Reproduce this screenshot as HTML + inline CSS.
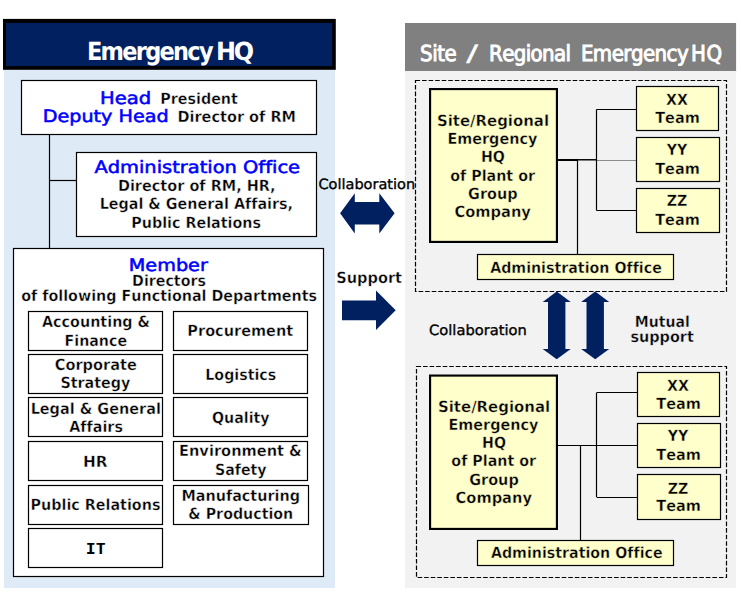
<!DOCTYPE html>
<html lang="en"><head><meta charset="utf-8"><title>Emergency HQ organisation</title>
<style>html,body{margin:0;padding:0;background:#fff}svg{display:block}text{font-variant-ligatures:none;font-kerning:none}</style></head>
<body>
<svg width="741" height="593" viewBox="0 0 741 593" text-rendering="geometricPrecision">
<rect x="0" y="0" width="741" height="593" fill="#ffffff"/>
<rect x="4.00" y="69.00" width="331.00" height="519.00" fill="#deeaf6" />
<rect x="405.00" y="71.00" width="331.10" height="517.00" fill="#f2f2f2" />
<rect x="3.00" y="18.90" width="332.80" height="50.90" fill="#000" />
<rect x="6.05" y="22.95" width="326.05" height="43.10" fill="#002060" />
<rect x="405.00" y="23.00" width="331.10" height="48.00" fill="#808080" />
<text x="86.90" y="60.00" font-family='"DejaVu Sans Condensed", "Liberation Sans", sans-serif' font-size="25" font-weight="bold" fill="#fff" letter-spacing="-1.728">Emergency</text>
<text transform="translate(216.1,60) scale(0.96,1)" letter-spacing="-2.45" font-family='"DejaVu Sans", "Liberation Sans", sans-serif' font-size="24.9" font-weight="bold" fill="#fff">HQ</text>
<text x="420.10" y="61.00" font-family='"DejaVu Sans Condensed", "Liberation Sans", sans-serif' font-size="22" font-weight="normal" fill="#fff" letter-spacing="-0.502" stroke="#ffffff" stroke-width="0.9">Site</text>
<text x="466.20" y="61.00" font-family='"DejaVu Sans Condensed", "Liberation Sans", sans-serif' font-size="22.5" font-weight="normal" fill="#fff" textLength="11.80" lengthAdjust="spacingAndGlyphs" stroke="#fff" stroke-width="0.3">/</text>
<text x="489.10" y="61.00" font-family='"DejaVu Sans Condensed", "Liberation Sans", sans-serif' font-size="22" font-weight="normal" fill="#fff" letter-spacing="-0.642" stroke="#ffffff" stroke-width="0.9">Regional</text>
<text x="580.90" y="61.00" font-family='"DejaVu Sans Condensed", "Liberation Sans", sans-serif' font-size="22" font-weight="normal" fill="#fff" letter-spacing="-0.525" stroke="#ffffff" stroke-width="0.9">Emergency</text>
<text x="690.90" y="61.00" font-family='"DejaVu Sans Condensed", "Liberation Sans", sans-serif' font-size="22" font-weight="normal" fill="#fff" letter-spacing="0.735" stroke="#ffffff" stroke-width="0.9">HQ</text>
<line x1="49.50" y1="135.00" x2="49.50" y2="248.50" stroke="#000" stroke-width="1.2"/>
<line x1="49.50" y1="180.50" x2="76.00" y2="180.50" stroke="#000" stroke-width="1.2"/>
<rect x="21.50" y="80.50" width="295.00" height="54.00" fill="#fff" stroke="#000" stroke-width="1.2" />
<rect x="76.50" y="152.50" width="240.00" height="84.00" fill="#fff" stroke="#000" stroke-width="1.2" />
<rect x="13.50" y="248.50" width="310.00" height="328.00" fill="#fff" stroke="#000" stroke-width="1.2" />
<text x="100.05" y="103.60" font-family='"DejaVu Sans", "Liberation Sans", sans-serif' font-size="17" font-weight="normal" fill="#0000ff" textLength="51.14" lengthAdjust="spacingAndGlyphs" stroke="#0000ff" stroke-width="0.55">Head</text>
<text x="160.20" y="103.60" font-family='"DejaVu Sans", "Liberation Sans", sans-serif' font-size="15.5" font-weight="bold" fill="#000" textLength="77.72" lengthAdjust="spacingAndGlyphs" stroke="#fff" stroke-width="0.4">President</text>
<text x="42.79" y="121.70" font-family='"DejaVu Sans", "Liberation Sans", sans-serif' font-size="17" font-weight="normal" fill="#0000ff" textLength="125.86" lengthAdjust="spacingAndGlyphs" stroke="#0000ff" stroke-width="0.55">Deputy Head</text>
<text x="177.48" y="121.70" font-family='"DejaVu Sans", "Liberation Sans", sans-serif' font-size="15.5" font-weight="bold" fill="#000" textLength="118.55" lengthAdjust="spacingAndGlyphs" stroke="#fff" stroke-width="0.4">Director of RM</text>
<text x="94.43" y="172.60" font-family='"DejaVu Sans", "Liberation Sans", sans-serif' font-size="17" font-weight="normal" fill="#0000ff" textLength="205.60" lengthAdjust="spacingAndGlyphs" stroke="#0000ff" stroke-width="0.55">Administration Office</text>
<text x="117.89" y="190.60" font-family='"DejaVu Sans", "Liberation Sans", sans-serif' font-size="15.5" font-weight="bold" fill="#000" textLength="157.59" lengthAdjust="spacingAndGlyphs" stroke="#fff" stroke-width="0.4">Director of RM, HR,</text>
<text x="99.69" y="209.00" font-family='"DejaVu Sans", "Liberation Sans", sans-serif' font-size="15.5" font-weight="bold" fill="#000" textLength="193.38" lengthAdjust="spacingAndGlyphs" stroke="#fff" stroke-width="0.4">Legal &amp; General Affairs,</text>
<text x="131.30" y="227.50" font-family='"DejaVu Sans", "Liberation Sans", sans-serif' font-size="15.5" font-weight="bold" fill="#000" textLength="129.67" lengthAdjust="spacingAndGlyphs" stroke="#fff" stroke-width="0.4">Public Relations</text>
<text x="128.79" y="270.50" font-family='"DejaVu Sans", "Liberation Sans", sans-serif' font-size="17" font-weight="normal" fill="#0000ff" textLength="79.02" lengthAdjust="spacingAndGlyphs" stroke="#0000ff" stroke-width="0.55">Member</text>
<text x="132.10" y="285.80" font-family='"DejaVu Sans", "Liberation Sans", sans-serif' font-size="15.5" font-weight="bold" fill="#000" textLength="73.81" lengthAdjust="spacingAndGlyphs" stroke="#fff" stroke-width="0.4">Directors</text>
<text x="21.20" y="300.80" font-family='"DejaVu Sans", "Liberation Sans", sans-serif' font-size="15.5" font-weight="bold" fill="#000" textLength="295.88" lengthAdjust="spacingAndGlyphs" stroke="#fff" stroke-width="0.4">of following Functional Departments</text>
<rect x="28.50" y="311.50" width="134.00" height="39.00" fill="#fff" stroke="#000" stroke-width="1.2" />
<text x="42.04" y="326.75" font-family='"DejaVu Sans", "Liberation Sans", sans-serif' font-size="15.5" font-weight="bold" fill="#000" textLength="108.06" lengthAdjust="spacingAndGlyphs" stroke="#fff" stroke-width="0.4">Accounting &amp;</text>
<text x="64.55" y="345.70" font-family='"DejaVu Sans", "Liberation Sans", sans-serif' font-size="15.5" font-weight="bold" fill="#000" textLength="62.50" lengthAdjust="spacingAndGlyphs" stroke="#fff" stroke-width="0.4">Finance</text>
<rect x="28.50" y="354.50" width="134.00" height="39.00" fill="#fff" stroke="#000" stroke-width="1.2" />
<text x="54.74" y="370.00" font-family='"DejaVu Sans", "Liberation Sans", sans-serif' font-size="15.5" font-weight="bold" fill="#000" textLength="82.11" lengthAdjust="spacingAndGlyphs" stroke="#fff" stroke-width="0.4">Corporate</text>
<text x="60.43" y="388.40" font-family='"DejaVu Sans", "Liberation Sans", sans-serif' font-size="15.5" font-weight="bold" fill="#000" textLength="69.98" lengthAdjust="spacingAndGlyphs" stroke="#fff" stroke-width="0.4">Strategy</text>
<rect x="28.50" y="397.50" width="134.00" height="39.00" fill="#fff" stroke="#000" stroke-width="1.2" />
<text x="30.64" y="414.10" font-family='"DejaVu Sans", "Liberation Sans", sans-serif' font-size="15.5" font-weight="bold" fill="#000" textLength="130.23" lengthAdjust="spacingAndGlyphs" stroke="#fff" stroke-width="0.4">Legal &amp; General</text>
<text x="69.29" y="432.20" font-family='"DejaVu Sans", "Liberation Sans", sans-serif' font-size="15.5" font-weight="bold" fill="#000" textLength="53.64" lengthAdjust="spacingAndGlyphs" stroke="#fff" stroke-width="0.4">Affairs</text>
<rect x="28.50" y="441.50" width="134.00" height="39.00" fill="#fff" stroke="#000" stroke-width="1.2" />
<text x="82.96" y="466.80" font-family='"DejaVu Sans", "Liberation Sans", sans-serif' font-size="15.5" font-weight="bold" fill="#000" textLength="24.60" lengthAdjust="spacingAndGlyphs" stroke="#fff" stroke-width="0.4">HR</text>
<rect x="28.50" y="485.50" width="134.00" height="39.00" fill="#fff" stroke="#000" stroke-width="1.2" />
<text x="30.55" y="509.50" font-family='"DejaVu Sans", "Liberation Sans", sans-serif' font-size="15.5" font-weight="bold" fill="#000" textLength="129.88" lengthAdjust="spacingAndGlyphs" stroke="#fff" stroke-width="0.4">Public Relations</text>
<rect x="28.50" y="528.50" width="134.00" height="39.00" fill="#fff" stroke="#000" stroke-width="1.2" />
<text x="85.83" y="554.20" font-family='"DejaVu Sans Mono", "Liberation Mono", monospace' font-size="15.2" font-weight="bold" fill="#000" textLength="19.88" lengthAdjust="spacingAndGlyphs">IT</text>
<rect x="173.50" y="311.50" width="134.00" height="39.00" fill="#fff" stroke="#000" stroke-width="1.2" />
<text x="187.36" y="335.75" font-family='"DejaVu Sans", "Liberation Sans", sans-serif' font-size="15.5" font-weight="bold" fill="#000" textLength="105.84" lengthAdjust="spacingAndGlyphs" stroke="#fff" stroke-width="0.4">Procurement</text>
<rect x="173.50" y="354.50" width="134.00" height="39.00" fill="#fff" stroke="#000" stroke-width="1.2" />
<text x="205.32" y="379.80" font-family='"DejaVu Sans", "Liberation Sans", sans-serif' font-size="15.5" font-weight="bold" fill="#000" textLength="70.91" lengthAdjust="spacingAndGlyphs" stroke="#fff" stroke-width="0.4">Logistics</text>
<rect x="173.50" y="397.50" width="134.00" height="39.00" fill="#fff" stroke="#000" stroke-width="1.2" />
<text x="211.96" y="422.50" font-family='"DejaVu Sans", "Liberation Sans", sans-serif' font-size="15.5" font-weight="bold" fill="#000" textLength="57.62" lengthAdjust="spacingAndGlyphs" stroke="#fff" stroke-width="0.4">Quality</text>
<rect x="173.50" y="441.50" width="134.00" height="39.00" fill="#fff" stroke="#000" stroke-width="1.2" />
<text x="179.00" y="456.25" font-family='"DejaVu Sans", "Liberation Sans", sans-serif' font-size="15.5" font-weight="bold" fill="#000" textLength="122.84" lengthAdjust="spacingAndGlyphs" stroke="#fff" stroke-width="0.4">Environment &amp;</text>
<text x="214.91" y="474.90" font-family='"DejaVu Sans", "Liberation Sans", sans-serif' font-size="15.5" font-weight="bold" fill="#000" textLength="51.74" lengthAdjust="spacingAndGlyphs" stroke="#fff" stroke-width="0.4">Safety</text>
<rect x="173.50" y="485.50" width="135.00" height="39.00" fill="#fff" stroke="#000" stroke-width="1.2" />
<text x="181.39" y="500.50" font-family='"DejaVu Sans", "Liberation Sans", sans-serif' font-size="15.5" font-weight="bold" fill="#000" textLength="118.67" lengthAdjust="spacingAndGlyphs" stroke="#fff" stroke-width="0.4">Manufacturing</text>
<text x="188.35" y="518.90" font-family='"DejaVu Sans", "Liberation Sans", sans-serif' font-size="15.5" font-weight="bold" fill="#000" textLength="104.85" lengthAdjust="spacingAndGlyphs" stroke="#fff" stroke-width="0.4">&amp; Production</text>
<text x="318.40" y="189.10" font-family='"DejaVu Sans", "Liberation Sans", sans-serif' font-size="14.1" font-weight="normal" fill="#000" textLength="96.80" lengthAdjust="spacingAndGlyphs" stroke="#000" stroke-width="0.35">Collaboration</text>
<text x="336.27" y="282.50" font-family='"DejaVu Sans", "Liberation Sans", sans-serif' font-size="15.5" font-weight="bold" fill="#000" textLength="65.75" lengthAdjust="spacingAndGlyphs" stroke="#fff" stroke-width="0.4">Support</text>
<polygon points="340.10,213.30 354.80,193.20 354.80,202.00 379.30,202.00 379.30,193.20 394.60,213.30 379.30,233.40 379.30,224.60 354.80,224.60 354.80,233.40" fill="#002060"/>
<polygon points="342.00,300.60 376.00,300.60 376.00,290.40 395.70,310.20 376.00,330.00 376.00,320.20 342.00,320.20" fill="#002060"/>
<rect x="415.50" y="80.50" width="311.00" height="211.00" fill="none" stroke="#000" stroke-width="1.2" stroke-dasharray="4.6 1.95"/>
<rect x="555.50" y="159.00" width="22.50" height="2.00" fill="#000" />
<rect x="577.50" y="159.05" width="19.50" height="1.45" fill="#000" />
<line x1="596.50" y1="160.50" x2="636.00" y2="160.50" stroke="#8c8c8c" stroke-width="1.2"/>
<line x1="577.50" y1="160.00" x2="577.50" y2="254.50" stroke="#000" stroke-width="1.2"/>
<line x1="596.50" y1="109.50" x2="596.50" y2="210.45" stroke="#000" stroke-width="1.2"/>
<line x1="596.50" y1="109.50" x2="636.00" y2="109.50" stroke="#000" stroke-width="1.2"/>
<line x1="596.50" y1="210.50" x2="636.00" y2="210.50" stroke="#000" stroke-width="1.2"/>
<rect x="429.00" y="88.00" width="129.00" height="155.00" fill="#000" />
<rect x="431.15" y="90.15" width="124.70" height="150.70" fill="#ffffcc" />
<text x="436.89" y="125.50" font-family='"DejaVu Sans", "Liberation Sans", sans-serif' font-size="15.5" font-weight="bold" fill="#000" textLength="112.21" lengthAdjust="spacingAndGlyphs" stroke="#ffffcc" stroke-width="0.4">Site/Regional</text>
<text x="447.39" y="143.65" font-family='"DejaVu Sans", "Liberation Sans", sans-serif' font-size="15.5" font-weight="bold" fill="#000" textLength="89.97" lengthAdjust="spacingAndGlyphs" stroke="#ffffcc" stroke-width="0.4">Emergency</text>
<text x="480.91" y="162.40" font-family='"DejaVu Sans", "Liberation Sans", sans-serif' font-size="15.5" font-weight="bold" fill="#000" textLength="23.99" lengthAdjust="spacingAndGlyphs" stroke="#ffffcc" stroke-width="0.4">HQ</text>
<text x="450.23" y="180.95" font-family='"DejaVu Sans", "Liberation Sans", sans-serif' font-size="15.5" font-weight="bold" fill="#000" textLength="84.78" lengthAdjust="spacingAndGlyphs" stroke="#ffffcc" stroke-width="0.4">of Plant or</text>
<text x="468.12" y="198.70" font-family='"DejaVu Sans", "Liberation Sans", sans-serif' font-size="15.5" font-weight="bold" fill="#000" textLength="49.50" lengthAdjust="spacingAndGlyphs" stroke="#ffffcc" stroke-width="0.4">Group</text>
<text x="454.48" y="216.85" font-family='"DejaVu Sans", "Liberation Sans", sans-serif' font-size="15.5" font-weight="bold" fill="#000" textLength="76.39" lengthAdjust="spacingAndGlyphs" stroke="#ffffcc" stroke-width="0.4">Company</text>
<rect x="636.50" y="86.50" width="82.00" height="44.00" fill="#ffffcc" stroke="#000" stroke-width="1.2" />
<text x="665.99" y="105.00" font-family='"DejaVu Sans", "Liberation Sans", sans-serif' font-size="15.5" font-weight="bold" fill="#000" textLength="21.93" lengthAdjust="spacingAndGlyphs" stroke="#ffffcc" stroke-width="0.4">XX</text>
<text x="655.19" y="123.00" font-family='"DejaVu Sans", "Liberation Sans", sans-serif' font-size="15.5" font-weight="bold" fill="#000" textLength="44.66" lengthAdjust="spacingAndGlyphs" stroke="#ffffcc" stroke-width="0.4">Team</text>
<rect x="636.50" y="137.50" width="83.00" height="44.00" fill="#ffffcc" stroke="#000" stroke-width="1.2" />
<text x="666.65" y="155.40" font-family='"DejaVu Sans", "Liberation Sans", sans-serif' font-size="15.5" font-weight="bold" fill="#000" textLength="20.59" lengthAdjust="spacingAndGlyphs" stroke="#ffffcc" stroke-width="0.4">YY</text>
<text x="655.19" y="173.60" font-family='"DejaVu Sans", "Liberation Sans", sans-serif' font-size="15.5" font-weight="bold" fill="#000" textLength="44.66" lengthAdjust="spacingAndGlyphs" stroke="#ffffcc" stroke-width="0.4">Team</text>
<rect x="636.50" y="188.50" width="83.00" height="44.00" fill="#ffffcc" stroke="#000" stroke-width="1.2" />
<text x="666.64" y="206.40" font-family='"DejaVu Sans", "Liberation Sans", sans-serif' font-size="15.5" font-weight="bold" fill="#000" textLength="20.62" lengthAdjust="spacingAndGlyphs" stroke="#ffffcc" stroke-width="0.4">ZZ</text>
<text x="655.19" y="224.60" font-family='"DejaVu Sans", "Liberation Sans", sans-serif' font-size="15.5" font-weight="bold" fill="#000" textLength="44.66" lengthAdjust="spacingAndGlyphs" stroke="#ffffcc" stroke-width="0.4">Team</text>
<rect x="477.50" y="254.50" width="196.00" height="25.00" fill="#ffffcc" stroke="#000" stroke-width="1.2" />
<text x="490.14" y="272.50" font-family='"DejaVu Sans", "Liberation Sans", sans-serif' font-size="15.5" font-weight="bold" fill="#000" textLength="171.66" lengthAdjust="spacingAndGlyphs" stroke="#ffffcc" stroke-width="0.4">Administration Office</text>
<rect x="416.50" y="366.50" width="310.00" height="211.00" fill="none" stroke="#000" stroke-width="1.2" stroke-dasharray="4.6 1.95"/>
<line x1="558.00" y1="445.50" x2="637.25" y2="445.50" stroke="#000" stroke-width="1.2"/>
<line x1="580.50" y1="445.75" x2="580.50" y2="540.25" stroke="#000" stroke-width="1.2"/>
<line x1="596.50" y1="392.60" x2="596.50" y2="497.07" stroke="#000" stroke-width="1.2"/>
<line x1="596.75" y1="392.50" x2="637.25" y2="392.50" stroke="#000" stroke-width="1.2"/>
<line x1="596.75" y1="497.50" x2="637.25" y2="497.50" stroke="#000" stroke-width="1.2"/>
<rect x="429.00" y="374.50" width="129.00" height="155.50" fill="#000" />
<rect x="431.15" y="376.65" width="124.70" height="151.20" fill="#ffffcc" />
<text x="437.99" y="411.50" font-family='"DejaVu Sans", "Liberation Sans", sans-serif' font-size="15.5" font-weight="bold" fill="#000" textLength="112.21" lengthAdjust="spacingAndGlyphs" stroke="#ffffcc" stroke-width="0.4">Site/Regional</text>
<text x="448.49" y="429.80" font-family='"DejaVu Sans", "Liberation Sans", sans-serif' font-size="15.5" font-weight="bold" fill="#000" textLength="89.97" lengthAdjust="spacingAndGlyphs" stroke="#ffffcc" stroke-width="0.4">Emergency</text>
<text x="482.01" y="448.10" font-family='"DejaVu Sans", "Liberation Sans", sans-serif' font-size="15.5" font-weight="bold" fill="#000" textLength="23.99" lengthAdjust="spacingAndGlyphs" stroke="#ffffcc" stroke-width="0.4">HQ</text>
<text x="451.33" y="466.40" font-family='"DejaVu Sans", "Liberation Sans", sans-serif' font-size="15.5" font-weight="bold" fill="#000" textLength="84.78" lengthAdjust="spacingAndGlyphs" stroke="#ffffcc" stroke-width="0.4">of Plant or</text>
<text x="469.22" y="484.70" font-family='"DejaVu Sans", "Liberation Sans", sans-serif' font-size="15.5" font-weight="bold" fill="#000" textLength="49.50" lengthAdjust="spacingAndGlyphs" stroke="#ffffcc" stroke-width="0.4">Group</text>
<text x="455.58" y="503.00" font-family='"DejaVu Sans", "Liberation Sans", sans-serif' font-size="15.5" font-weight="bold" fill="#000" textLength="76.39" lengthAdjust="spacingAndGlyphs" stroke="#ffffcc" stroke-width="0.4">Company</text>
<rect x="637.50" y="372.50" width="82.00" height="44.00" fill="#ffffcc" stroke="#000" stroke-width="1.2" />
<text x="667.11" y="390.50" font-family='"DejaVu Sans", "Liberation Sans", sans-serif' font-size="15.5" font-weight="bold" fill="#000" textLength="21.93" lengthAdjust="spacingAndGlyphs" stroke="#ffffcc" stroke-width="0.4">XX</text>
<text x="656.31" y="409.40" font-family='"DejaVu Sans", "Liberation Sans", sans-serif' font-size="15.5" font-weight="bold" fill="#000" textLength="44.66" lengthAdjust="spacingAndGlyphs" stroke="#ffffcc" stroke-width="0.4">Team</text>
<rect x="637.50" y="423.50" width="83.00" height="44.00" fill="#ffffcc" stroke="#000" stroke-width="1.2" />
<text x="667.78" y="440.90" font-family='"DejaVu Sans", "Liberation Sans", sans-serif' font-size="15.5" font-weight="bold" fill="#000" textLength="20.59" lengthAdjust="spacingAndGlyphs" stroke="#ffffcc" stroke-width="0.4">YY</text>
<text x="656.31" y="459.50" font-family='"DejaVu Sans", "Liberation Sans", sans-serif' font-size="15.5" font-weight="bold" fill="#000" textLength="44.66" lengthAdjust="spacingAndGlyphs" stroke="#ffffcc" stroke-width="0.4">Team</text>
<rect x="637.50" y="474.50" width="83.00" height="45.00" fill="#ffffcc" stroke="#000" stroke-width="1.2" />
<text x="667.76" y="493.60" font-family='"DejaVu Sans", "Liberation Sans", sans-serif' font-size="15.5" font-weight="bold" fill="#000" textLength="20.62" lengthAdjust="spacingAndGlyphs" stroke="#ffffcc" stroke-width="0.4">ZZ</text>
<text x="656.31" y="511.30" font-family='"DejaVu Sans", "Liberation Sans", sans-serif' font-size="15.5" font-weight="bold" fill="#000" textLength="44.66" lengthAdjust="spacingAndGlyphs" stroke="#ffffcc" stroke-width="0.4">Team</text>
<rect x="477.50" y="540.50" width="196.00" height="25.00" fill="#ffffcc" stroke="#000" stroke-width="1.2" />
<text x="490.94" y="558.20" font-family='"DejaVu Sans", "Liberation Sans", sans-serif' font-size="15.5" font-weight="bold" fill="#000" textLength="171.66" lengthAdjust="spacingAndGlyphs" stroke="#ffffcc" stroke-width="0.4">Administration Office</text>
<polygon points="556.70,291.40 570.70,302.00 565.40,302.00 565.40,349.00 570.70,349.00 556.70,359.30 542.70,349.00 548.00,349.00 548.00,302.00 542.70,302.00" fill="#002060"/>
<polygon points="595.20,291.40 609.20,302.00 603.90,302.00 603.90,349.00 609.20,349.00 595.20,359.30 581.20,349.00 586.50,349.00 586.50,302.00 581.20,302.00" fill="#002060"/>
<text x="429.10" y="334.80" font-family='"DejaVu Sans", "Liberation Sans", sans-serif' font-size="14.1" font-weight="normal" fill="#000" textLength="97.60" lengthAdjust="spacingAndGlyphs" stroke="#000" stroke-width="0.35">Collaboration</text>
<text x="634.80" y="327.00" font-family='"DejaVu Sans", "Liberation Sans", sans-serif' font-size="15.5" font-weight="bold" fill="#000" textLength="55.00" lengthAdjust="spacingAndGlyphs" stroke="#f2f2f2" stroke-width="0.4">Mutual</text>
<text x="630.40" y="341.90" font-family='"DejaVu Sans", "Liberation Sans", sans-serif' font-size="15.5" font-weight="bold" fill="#000" textLength="63.40" lengthAdjust="spacingAndGlyphs" stroke="#f2f2f2" stroke-width="0.4">support</text>
</svg>
</body></html>
